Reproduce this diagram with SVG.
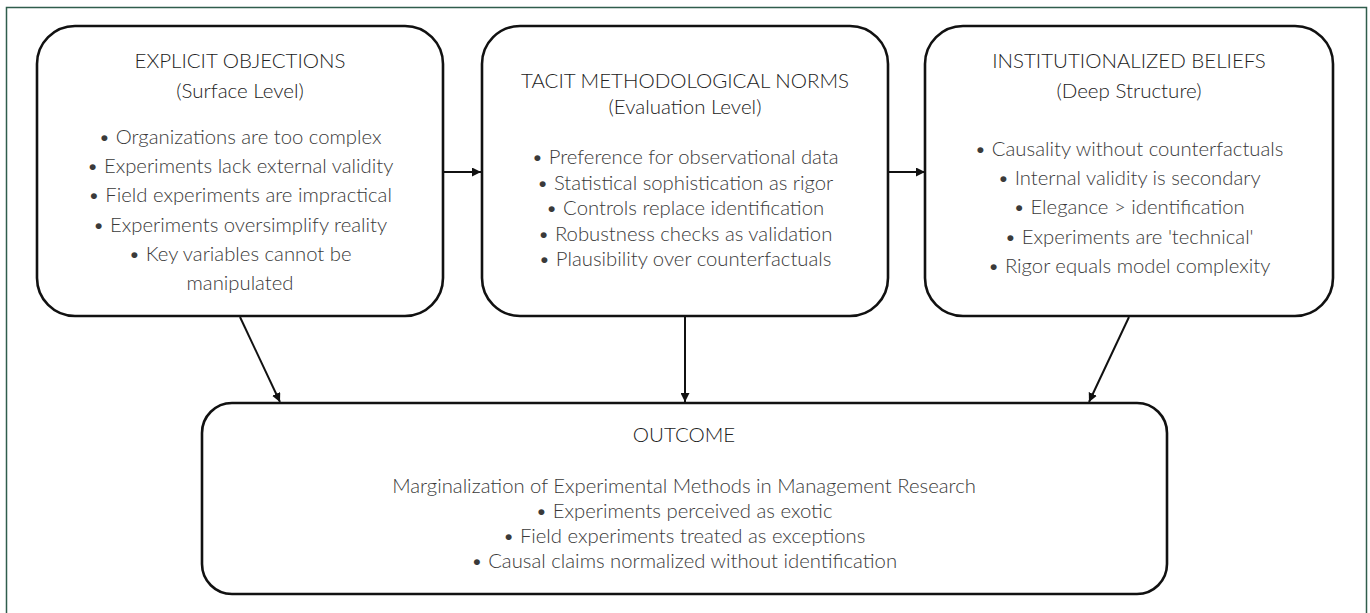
<svg xmlns="http://www.w3.org/2000/svg" width="1370" height="613" viewBox="0 0 1370 613">
  <style>
    .frame { fill: none; stroke: #2f5d4c; stroke-width: 1.5; }
    .box { fill: #ffffff; stroke: #111111; stroke-width: 2.6; }
    .title { font-family: Lato, "Liberation Sans", sans-serif; font-weight: 300; font-size: 20.5px; fill: #222222; text-anchor: middle; }
    .item { font-family: Lato, "Liberation Sans", sans-serif; font-weight: 300; font-size: 20.3px; fill: #3a3a3a; text-anchor: middle; }
    .link { fill: none; stroke: #111111; stroke-width: 2; }
  </style>
  <defs>
    <marker id="head" viewBox="0 0 10 10" refX="10" refY="5" markerWidth="9" markerHeight="9" orient="auto" markerUnits="userSpaceOnUse">
      <path d="M0,0 L10,5 L0,10 z" fill="#111111"/>
    </marker>
  </defs>

  <rect width="1370" height="613" fill="#ffffff"/>
  <rect class="frame" x="6.5" y="7.5" width="1360" height="620"/>

  <g id="connectors">
    <line class="link" x1="443" y1="172" x2="481" y2="172" marker-end="url(#head)"/>
    <line class="link" x1="888" y1="172" x2="925" y2="172" marker-end="url(#head)"/>
    <line class="link" x1="240" y1="317" x2="280" y2="402" marker-end="url(#head)"/>
    <line class="link" x1="685" y1="317" x2="685" y2="402" marker-end="url(#head)"/>
    <line class="link" x1="1129" y1="317" x2="1089" y2="402" marker-end="url(#head)"/>
  </g>

  <g id="explicit-objections">
    <rect class="box" x="37" y="26" width="406" height="290" rx="38"/>
    <text class="title" x="240" y="68">EXPLICIT OBJECTIONS</text>
    <text class="title" x="240" y="97.5">(Surface Level)</text>
    <text class="item" x="240" y="144">• Organizations are too complex</text>
    <text class="item" x="240" y="173">• Experiments lack external validity</text>
    <text class="item" x="240" y="202">• Field experiments are impractical</text>
    <text class="item" x="240" y="231.5">• Experiments oversimplify reality</text>
    <text class="item" x="240" y="261">• Key variables cannot be</text>
    <text class="item" x="240" y="290">manipulated</text>
  </g>

  <g id="tacit-norms">
    <rect class="box" x="482" y="26" width="406" height="290" rx="38"/>
    <text class="title" x="685" y="88">TACIT METHODOLOGICAL NORMS</text>
    <text class="title" x="685" y="113.5">(Evaluation Level)</text>
    <text class="item" x="685" y="164">• Preference for observational data</text>
    <text class="item" x="685" y="189.5">• Statistical sophistication as rigor</text>
    <text class="item" x="685" y="215">• Controls replace identification</text>
    <text class="item" x="685" y="240.5">• Robustness checks as validation</text>
    <text class="item" x="685" y="265.5">• Plausibility over counterfactuals</text>
  </g>

  <g id="institutionalized-beliefs">
    <rect class="box" x="925" y="26" width="408" height="290" rx="38"/>
    <text class="title" x="1129" y="68">INSTITUTIONALIZED BELIEFS</text>
    <text class="title" x="1129" y="97.5">(Deep Structure)</text>
    <text class="item" x="1129" y="156">• Causality without counterfactuals</text>
    <text class="item" x="1129" y="185">• Internal validity is secondary</text>
    <text class="item" x="1129" y="214">• Elegance &gt; identification</text>
    <text class="item" x="1129" y="243.5">• Experiments are 'technical'</text>
    <text class="item" x="1129" y="272.5">• Rigor equals model complexity</text>
  </g>

  <g id="outcome">
    <rect class="box" x="202" y="403" width="965" height="191" rx="30"/>
    <text class="title" x="684" y="441.5">OUTCOME</text>
    <text class="item" x="684" y="492.5">Marginalization of Experimental Methods in Management Research</text>
    <text class="item" x="684" y="518">• Experiments perceived as exotic</text>
    <text class="item" x="684" y="543">• Field experiments treated as exceptions</text>
    <text class="item" x="684" y="568">• Causal claims normalized without identification</text>
  </g>
</svg>
